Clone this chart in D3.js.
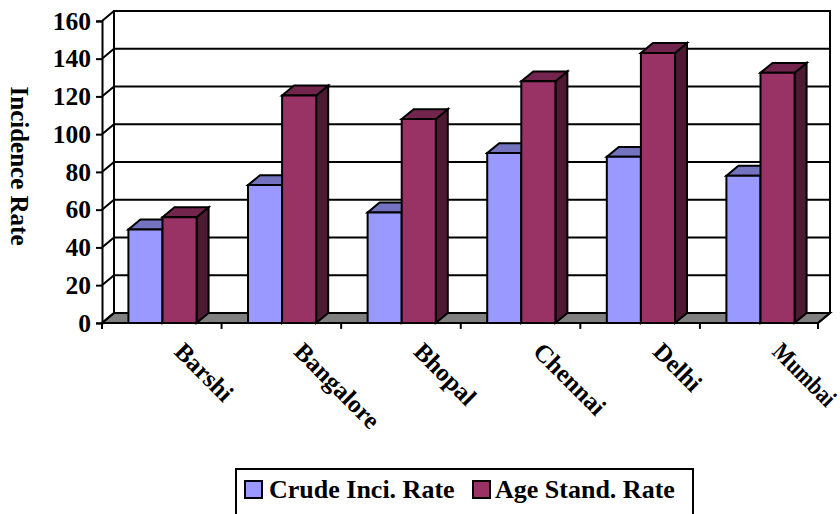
<!DOCTYPE html>
<html><head><meta charset="utf-8">
<script src="https://cdn.jsdelivr.net/npm/d3@7"></script>
<style>html,body{margin:0;padding:0;background:#fff}svg{display:block}text{font-family:"Liberation Serif",serif;font-weight:bold;fill:#000}</style>
</head><body><svg id="c" width="840" height="514"></svg>
<script>
const categories = ["Barshi","Bangalore","Bhopal","Chennai","Delhi","Mumbai"];
const crudeRate = [49.5,73,58.5,90,88,78];
const ageStandRate = [56,120.5,108,128,143,132.5];
const seriesNames = ["Crude Inci. Rate","Age Stand. Rate"];
const yTicks = [0,20,40,60,80,100,120,140,160];
const colors = {
  crude:{front:"#9999ff",top:"#7373bf",side:"#4d4d80"},
  age:{front:"#993366",top:"#73264d",side:"#4d1933"},
  floor:"#808080"
};
const dx = 12, dy = -9.9, sw = 2;
const svg = d3.select("#c");
const x = d3.scaleBand().domain(categories).range([102.7,820.3]).paddingInner(0.43).paddingOuter(0.215);
const y = d3.scaleLinear().domain([0,160]).range([322.9,20.9]);
const x2 = d3.scaleBand().domain([0,1]).range([0,x.bandwidth()]);
const L = 102, R = 818, B = y(0), T = y(160);

// floor
svg.append("polygon").attr("fill",colors.floor).attr("stroke","#000").attr("stroke-width",sw)
  .attr("points",[[L,B],[L+dx,B+dy],[R+dx,B+dy],[R,B]].join(" "));
// back wall and gridlines
svg.append("g").selectAll("path").data(yTicks).join("path")
  .attr("fill","none").attr("stroke","#000").attr("stroke-width",sw)
  .attr("d",d=>`M${L},${y(d)}L${L+dx},${y(d)+dy}L${R+dx},${y(d)+dy}`);
svg.append("path").attr("fill","none").attr("stroke","#000").attr("stroke-width",sw)
  .attr("d",`M${L+dx},${B+dy}V${T+dy}H${R+dx}V${B+dy}L${R},${B}`);

// bars
function bar(g,x0,w,v,c){
  const t=y(v), b=B;
  const st={stroke:"#000","stroke-width":sw,"stroke-linejoin":"miter"};
  const add=(pts,f)=>{const p=g.append("polygon").attr("points",pts.join(" ")).attr("fill",f);for(const k in st)p.attr(k,st[k]);};
  add([[x0+w,t],[x0+w+dx,t+dy],[x0+w+dx,b+dy],[x0+w,b]],c.side);
  add([[x0,t],[x0+dx,t+dy],[x0+w+dx,t+dy],[x0+w,t]],c.top);
  add([[x0,t],[x0+w,t],[x0+w,b],[x0,b]],c.front);
}
const bars=svg.append("g");
categories.forEach((cat,i)=>{
  bar(bars,x(cat)+x2(0),x2.bandwidth(),crudeRate[i],colors.crude);
  bar(bars,x(cat)+x2(1),x2.bandwidth(),ageStandRate[i],colors.age);
});

// y axis
const yAxis=d3.axisLeft(y).tickValues(yTicks).tickSize(6).tickPadding(5);
const gy=svg.append("g").attr("transform",`translate(${L},0)`).call(yAxis);
gy.selectAll("path,line").attr("stroke","#000").attr("stroke-width",sw);
gy.selectAll("text").style("font-family",'"Liberation Serif",serif').style("font-weight","bold").style("font-size","25.5px").attr("fill","#000");
// x axis
const xEdges=d3.scaleLinear().domain([0,6]).range([L,819.5]);
svg.append("path").attr("stroke","#000").attr("stroke-width",sw).attr("d",`M${L},${B}H${R}`);
svg.append("g").selectAll("line").data(d3.range(7)).join("line")
  .attr("x1",d=>Math.min(xEdges(d),R)).attr("x2",d=>Math.min(xEdges(d),R)).attr("y1",B).attr("y2",B+6)
  .attr("stroke","#000").attr("stroke-width",sw);
// category labels (the last one is squeezed to stay inside the frame, as in the reference)
svg.append("g").selectAll("text").data(categories).join("text")
  .attr("font-size","25px")
  .attr("transform",d=>`translate(${x(d)+x.bandwidth()/2+10.5},353) rotate(45)`)
  .attr("textLength",(d,i)=>i===categories.length-1?78:null)
  .attr("lengthAdjust","spacingAndGlyphs")
  .text(d=>d);
// y title
svg.append("text").attr("font-size","25px").attr("text-anchor","middle")
  .attr("transform","translate(11,166) rotate(90)").text("Incidence Rate");
// legend
svg.append("rect").attr("x",236).attr("y",469).attr("width",457).attr("height",46)
  .attr("fill","#fff").attr("stroke","#000").attr("stroke-width",sw);
const legX=[245,473], legT=[269,495], legC=[colors.crude.front,colors.age.front];
seriesNames.forEach((n,i)=>{
  svg.append("rect").attr("x",legX[i]).attr("y",481).attr("width",17).attr("height",17)
    .attr("fill",legC[i]).attr("stroke","#000").attr("stroke-width",sw);
  svg.append("text").attr("x",legT[i]).attr("y",498).attr("font-size","26px").text(n);
});
</script></body></html>
